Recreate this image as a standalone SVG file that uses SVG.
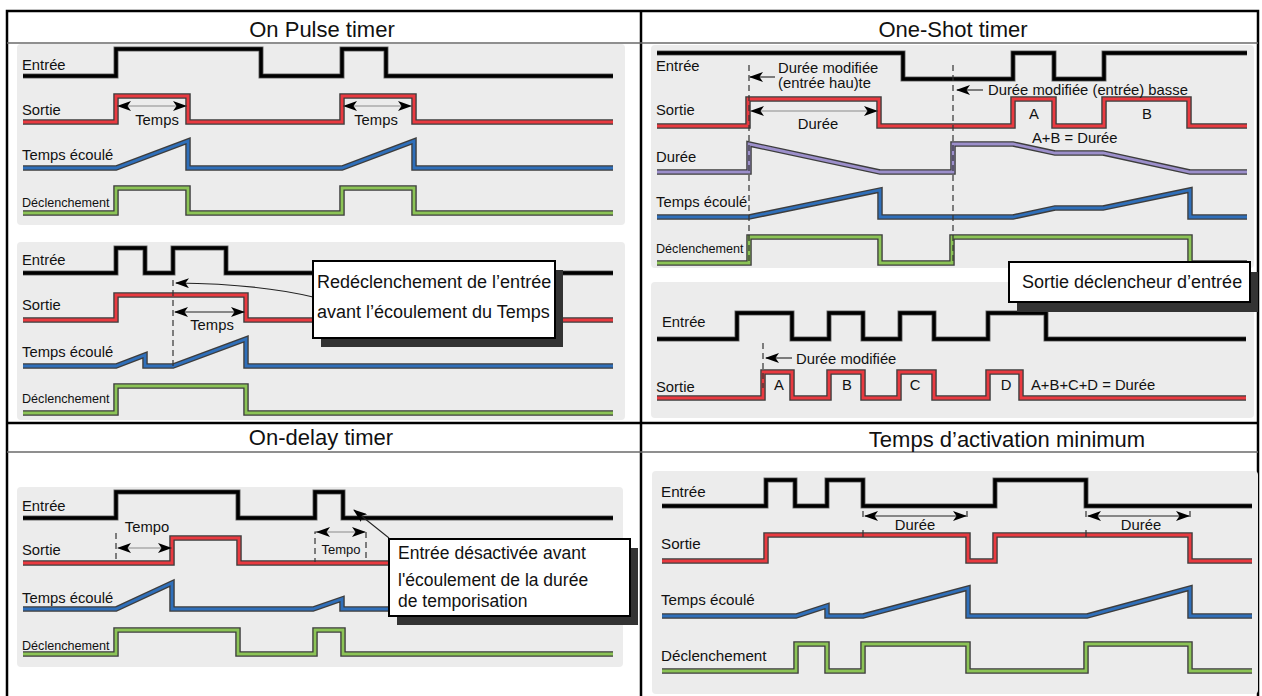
<svg xmlns="http://www.w3.org/2000/svg" xmlns:xlink="http://www.w3.org/1999/xlink" width="1262" height="696" viewBox="0 0 1262 696">
<style>
text{font-family:"Liberation Sans",Arial,sans-serif;fill:#111}
.title{font-size:22px;text-anchor:middle}
.lbl{font-size:14.8px}
.sm{font-size:12.6px}
.ann{font-size:14.8px}
.mid{text-anchor:middle}
.call{font-size:17.5px}
.call18{font-size:18px}
.panel{fill:#ececec}
.o{fill:none;stroke:#3d3d3d;stroke-width:5.5;stroke-linejoin:miter}
.ob{fill:none;stroke:#6a6a6a;stroke-width:5;stroke-linejoin:miter}
.k{fill:none;stroke:#000;stroke-width:3.4}
.r{fill:none;stroke:#ea3a40;stroke-width:2.8}
.b{fill:none;stroke:#2f6fba;stroke-width:2.8}
.g{fill:none;stroke:#8cc456;stroke-width:2.8}
.p{fill:none;stroke:#9c8fcb;stroke-width:2.8}
.dash{fill:none;stroke:#333;stroke-width:1.2;stroke-dasharray:6 4}
.tick{fill:none;stroke:#333;stroke-width:1.2}
.dim{fill:none;stroke:#8a8a8a;stroke-width:1.2;marker-start:url(#ah);marker-end:url(#ah)}
.dimk{fill:none;stroke:#222;stroke-width:1.2;marker-start:url(#ah);marker-end:url(#ah)}
.ptr{fill:none;stroke:#222;stroke-width:1.1;marker-end:url(#ah)}
.box{fill:#fff;stroke:#000;stroke-width:2}
.shadow{fill:#333}
.frame{fill:none;stroke:#000;stroke-width:2.5}
.hdr{stroke:#6a6a6a;stroke-width:1.6}
</style>
<defs>
<marker id="ah" viewBox="0 0 14 10" refX="13" refY="5" markerWidth="14" markerHeight="10" markerUnits="userSpaceOnUse" orient="auto-start-reverse">
<path d="M0,0 L14,5 L0,10 L3.5,5 Z" fill="#000"/>
</marker>
<path id="E1" d="M23,76 H116 V49 H261 V76 H342 V49 H386 V76 H613"/>
<path id="S1" d="M23,122 H116 V96 H188 V122 H342 V96 H414 V122 H613"/>
<path id="T1" d="M23,168 H116 L188,141 V168 H342 L414,141 V168 H613"/>
<path id="D1" d="M23,213 H116 V188 H188 V213 H342 V188 H414 V213 H613"/>
<path id="E2" d="M23,273 H116 V248 H145 V273 H173 V248 H226 V273 H613"/>
<path id="S2" d="M23,320 H116 V295 H246 V320 H613"/>
<path id="T2" d="M23,366 H116 L145,355 V366 H173 L246,339 V366 H613"/>
<path id="D2" d="M23,413 H116 V386 H246 V413 H613"/>
<path id="E3" d="M657,53 H903 V79 H1013 V53 H1054 V79 H1104 V53 H1247"/>
<path id="S3" d="M657,126 H748 V99 H879 V126 H1013 V99 H1054 V126 H1104 V99 H1189 V126 H1247"/>
<path id="P3" d="M657,172 H749 V144 L880,172 H953 V144 H1013 L1055,153 H1103 L1190,172 H1247"/>
<path id="T3" d="M657,217 H749 L880,190 V217 H1013 L1055,208 H1103 L1190,190 V217 H1247"/>
<path id="D3" d="M657,263 H749 V237 H880 V263 H952 V237 H1190 V263 H1247"/>
<path id="E4" d="M657,339 H737 V313 H792 V339 H829 V313 H863 V339 H900 V313 H934 V339 H988 V313 H1046 V339 H1246"/>
<path id="S4" d="M657,398 H763 V372 H792 V398 H829 V372 H863 V398 H899 V372 H934 V398 H988 V372 H1021 V398 H1246"/>
<path id="E5" d="M23,518 H116 V492 H238 V518 H315 V492 H343 V518 H613"/>
<path id="S5" d="M23,563 H172 V538 H239 V563 H613"/>
<path id="T5" d="M23,609 H116 L172,583 V609 H313 L342,599 V609 H613"/>
<path id="D5" d="M23,654 H116 V630 H238 V654 H315 V630 H343 V654 H613"/>
<path id="E6" d="M662,506 H766 V480 H795 V506 H827 V480 H863 V506 H995 V480 H1086 V506 H1252"/>
<path id="S6" d="M662,561 H766 V535 H968 V561 H995 V535 H1190 V561 H1252"/>
<path id="T6" d="M662,616 H796 L827,606 V616 H863 L968,588 V616 H1087 L1190,588 V616 H1252"/>
<path id="D6" d="M662,671 H796 V644 H827 V671 H863 V644 H968 V671 H1086 V644 H1190 V671 H1252"/>
</defs>

<rect x="0" y="0" width="1262" height="696" fill="#fff"/>

<g id="frame">
<rect class="frame" x="7" y="11" width="1251" height="700"/>
<line class="frame" x1="7" y1="423" x2="1258" y2="423"/>
<line class="frame" x1="641" y1="11" x2="641" y2="700"/>
<line class="hdr" x1="7" y1="43" x2="1258" y2="43"/>
<line class="hdr" x1="7" y1="452" x2="1258" y2="452"/>
<text class="title" x="322" y="37">On Pulse timer</text>
<text class="title" x="953" y="37">One-Shot timer</text>
<text class="title" x="321" y="445">On-delay timer</text>
<text class="title" x="1007" y="447">Temps d’activation minimum</text>
</g>

<g id="on-pulse-1">
<rect class="panel" x="17" y="44" width="608" height="181" rx="4"/>
<use href="#E1" class="ob"/><use href="#E1" class="k"/>
<use href="#S1" class="o"/><use href="#S1" class="r"/>
<use href="#T1" class="o"/><use href="#T1" class="b"/>
<use href="#D1" class="o"/><use href="#D1" class="g"/>
<text class="lbl" x="22" y="70">Entrée</text>
<text class="lbl" x="22" y="115">Sortie</text>
<text class="lbl" x="22" y="160">Temps écoulé</text>
<text class="sm" x="22" y="207">Déclenchement</text>
<text class="ann mid" x="157" y="125">Temps</text>
<text class="ann mid" x="376" y="125">Temps</text>
</g>

<g id="on-pulse-2">
<rect class="panel" x="17" y="242" width="608" height="178" rx="4"/>
<use href="#E2" class="ob"/><use href="#E2" class="k"/>
<use href="#S2" class="o"/><use href="#S2" class="r"/>
<use href="#T2" class="o"/><use href="#T2" class="b"/>
<use href="#D2" class="o"/><use href="#D2" class="g"/>
<line class="dash" x1="173" y1="280" x2="173" y2="367"/>
<text class="lbl" x="22" y="265">Entrée</text>
<text class="lbl" x="22" y="310">Sortie</text>
<text class="lbl" x="22" y="357">Temps écoulé</text>
<text class="sm" x="22" y="403">Déclenchement</text>
<text class="ann mid" x="212" y="330">Temps</text>
</g>

<g id="one-shot-1">
<rect class="panel" x="651" y="45" width="603" height="223" rx="4"/>
<use href="#E3" class="ob"/><use href="#E3" class="k"/>
<use href="#S3" class="o"/><use href="#S3" class="r"/>
<use href="#P3" class="o"/><use href="#P3" class="p"/>
<use href="#T3" class="o"/><use href="#T3" class="b"/>
<use href="#D3" class="o"/><use href="#D3" class="g"/>
<line class="dash" x1="749" y1="65" x2="749" y2="263"/>
<line class="dash" x1="953" y1="65" x2="953" y2="263"/>
<text class="lbl" x="656" y="71">Entrée</text>
<text class="lbl" x="656" y="115">Sortie</text>
<text class="lbl" x="656" y="162">Durée</text>
<text class="lbl" x="656" y="207">Temps écoulé</text>
<text class="sm" x="656" y="253">Déclenchement</text>
<text class="ann" x="778" y="73">Durée modifiée</text>
<text class="ann" x="778" y="88">(entrée hau)te</text>
<text class="ann mid" x="818" y="129">Durée</text>
<text class="ann" x="988" y="95">Durée modifiée (entrée) basse</text>
<text class="ann mid" x="1034" y="119">A</text>
<text class="ann mid" x="1147" y="119">B</text>
<text class="ann" x="1032" y="143">A+B = Durée</text>
</g>

<g id="one-shot-2">
<rect class="panel" x="651" y="282" width="603" height="136" rx="4"/>
<use href="#E4" class="ob"/><use href="#E4" class="k"/>
<use href="#S4" class="o"/><use href="#S4" class="r"/>
<line class="dash" x1="763" y1="343" x2="763" y2="388"/>
<text class="lbl" x="662" y="327">Entrée</text>
<text class="lbl" x="656" y="392">Sortie</text>
<text class="ann" x="796" y="364">Durée modifiée</text>
<text class="ann mid" x="779" y="390">A</text>
<text class="ann mid" x="847" y="390">B</text>
<text class="ann mid" x="915" y="390">C</text>
<text class="ann mid" x="1006" y="390">D</text>
<text class="ann" x="1031" y="390">A+B+C+D = Durée</text>
</g>

<g id="callout-sortie">
<rect class="shadow" x="1017" y="272" width="241" height="40"/>
<rect class="box" x="1009" y="262" width="241" height="40"/>
<text class="call18" x="1022" y="288">Sortie déclencheur d’entrée</text>
</g>

<g id="on-delay">
<rect class="panel" x="17" y="487" width="606" height="180" rx="4"/>
<use href="#E5" class="ob"/><use href="#E5" class="k"/>
<use href="#S5" class="o"/><use href="#S5" class="r"/>
<use href="#T5" class="o"/><use href="#T5" class="b"/>
<use href="#D5" class="o"/><use href="#D5" class="g"/>
<line class="dash" x1="116" y1="533" x2="116" y2="562"/>
<path class="dash" d="M319,532 H315 V562"/>
<line class="dash" x1="366" y1="532" x2="366" y2="562"/>
<text class="lbl" x="22" y="511">Entrée</text>
<text class="lbl" x="22" y="555">Sortie</text>
<text class="lbl" x="22" y="603">Temps écoulé</text>
<text class="sm" x="22" y="650">Déclenchement</text>
<text class="ann mid" x="147" y="532">Tempo</text>
<text class="ann mid" x="341" y="554" style="font-size:13px">Tempo</text>
</g>

<g id="min-on-time">
<rect class="panel" x="652" y="471" width="606" height="223" rx="4"/>
<use href="#E6" class="ob"/><use href="#E6" class="k"/>
<use href="#S6" class="o"/><use href="#S6" class="r"/>
<use href="#T6" class="o"/><use href="#T6" class="b"/>
<use href="#D6" class="o"/><use href="#D6" class="g"/>
<line class="dash" x1="863" y1="511" x2="863" y2="521"/>
<line class="dash" x1="967" y1="511" x2="967" y2="521"/>
<line class="dash" x1="1086" y1="511" x2="1086" y2="521"/>
<line class="dash" x1="1190" y1="511" x2="1190" y2="521"/>
<line class="tick" x1="863" y1="530" x2="863" y2="537"/>
<line class="tick" x1="1086" y1="530" x2="1086" y2="537"/>
<text class="lbl" x="661" y="497" style="font-size:15.2px">Entrée</text>
<text class="lbl" x="661" y="549" style="font-size:15.2px">Sortie</text>
<text class="lbl" x="661" y="605" style="font-size:15.2px">Temps écoulé</text>
<text class="lbl" x="661" y="661" style="font-size:15.2px">Déclenchement</text>
<text class="ann mid" x="915" y="530">Durée</text>
<text class="ann mid" x="1141" y="530">Durée</text>
</g>

<g id="connectors">
<line class="dim" x1="118" y1="106" x2="186" y2="106"/>
<line class="dim" x1="344" y1="106" x2="411" y2="106"/>
<line class="dimk" x1="175" y1="312" x2="244" y2="312"/>
<line class="dim" x1="751" y1="111" x2="877" y2="111"/>
<line class="dim" x1="118" y1="548" x2="171" y2="548"/>
<line class="dim" x1="317" y1="532" x2="365" y2="532"/>
<line class="dimk" x1="865" y1="516" x2="966" y2="516"/>
<line class="dimk" x1="1088" y1="516" x2="1189" y2="516"/>
<line class="ptr" x1="775" y1="77" x2="750" y2="77"/>
<line class="ptr" x1="983" y1="90" x2="957" y2="90"/>
<line class="ptr" x1="792" y1="358" x2="766" y2="358"/>
<path class="ptr" d="M313,297 Q260,284 176,283"/>
<line class="ptr" x1="389" y1="538" x2="354" y2="510"/>
</g>

<g id="callout-retrigger">
<rect class="shadow" x="321" y="270" width="242" height="77"/>
<rect class="box" x="313" y="261" width="242" height="77"/>
<text class="call18" x="317" y="288">Redéclenchement de l’entrée</text>
<text class="call18" x="317" y="318">avant l’écoulement du Temps</text>
</g>

<g id="callout-ondelay">
<rect class="shadow" x="397" y="548" width="241" height="77"/>
<rect class="box" x="389" y="539" width="241" height="77"/>
<text class="call" x="398" y="559">Entrée désactivée avant</text>
<text class="call" x="398" y="586">l'écoulement de la durée</text>
<text class="call" x="398" y="607">de temporisation</text>
</g>
</svg>
